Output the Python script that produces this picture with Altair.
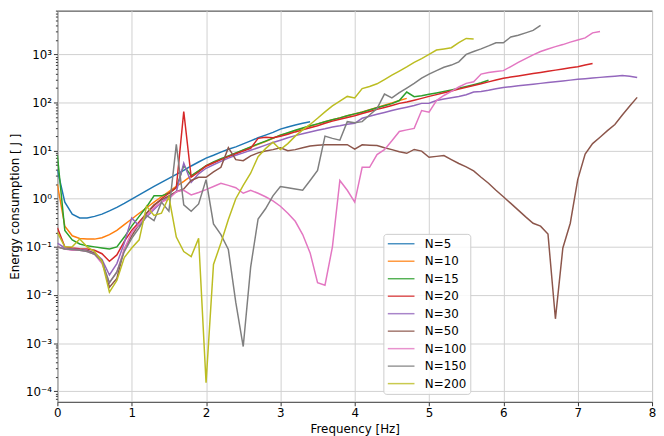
import altair as alt
import pandas as pd

FREQ = [0.0, 0.1, 0.2, 0.3, 0.4, 0.5, 0.6, 0.7, 0.8, 0.9,
        1.0, 1.1, 1.2, 1.3, 1.4, 1.5, 1.6, 1.7, 1.8, 1.9,
        2.0, 2.1, 2.2, 2.3, 2.4, 2.5, 2.6, 2.7, 2.8, 2.9,
        3.0, 3.1, 3.2, 3.3, 3.4, 3.5, 3.6, 3.7, 3.8, 3.9,
        4.0, 4.1, 4.2, 4.3, 4.4, 4.5, 4.6, 4.7, 4.8, 4.9,
        5.0, 5.1, 5.2, 5.3, 5.4, 5.5, 5.6, 5.7, 5.8, 5.9,
        6.0, 6.1, 6.2, 6.3, 6.4, 6.5, 6.6, 6.7, 6.8, 6.9,
        7.0, 7.1, 7.2, 7.3, 7.4, 7.5, 7.6, 7.7, 7.8]

SERIES = ["N=5", "N=10", "N=15", "N=20", "N=30", "N=50", "N=100", "N=150", "N=200"]
COLORS = ["#1f77b4", "#ff7f0e", "#2ca02c", "#d62728", "#9467bd",
          "#8c564b", "#e377c2", "#7f7f7f", "#bcbd22"]

N5 = [4.0, 0.85, 0.48, 0.40, 0.40, 0.43, 0.48, 0.56, 0.66, 0.80,
      0.98, 1.2, 1.48, 1.8, 2.2, 2.65, 3.2, 3.9, 4.8, 5.8,
      7.0, 8.0, 9.3, 10.7, 12, 13.8, 16, 18.5, 21, 24,
      28, 31, 34, 37, 40]

N10 = [2.0, 0.27, 0.17, 0.15, 0.145, 0.145, 0.155, 0.18, 0.22, 0.29,
       0.38, 0.5, 0.65, 0.85, 1.1, 1.4, 1.8, 2.3, 3.0, 3.8,
       4.7, 5.6, 6.6, 7.6, 8.8, 10.2, 11.8, 13.5, 15.5, 18,
       21, 23, 26, 29, 32, 36, 40, 44, 48, 53,
       58, 64, 71, 79, 88, 98, 110, 122]

N15 = [8.0, 0.22, 0.14, 0.115, 0.105, 0.1, 0.095, 0.09, 0.1, 0.16,
       0.27, 0.43, 0.68, 1.15, 1.15, 1.3, 1.7, 4.9, 3.0, 3.8,
       4.9, 5.8, 6.8, 7.8, 9.0, 10.4, 12, 13.8, 15.8, 18.2,
       21, 23.5, 26.5, 29.5, 33, 36, 40, 44, 48, 53,
       58, 63, 70, 78, 86, 95, 110, 165, 132, 138,
       148, 158, 170, 183, 198, 215, 235, 258, 290]

N20 = [0.25, 0.1, 0.095, 0.092, 0.09, 0.085, 0.072, 0.05, 0.068, 0.13,
       0.22, 0.33, 0.5, 0.72, 1.0, 1.3, 1.7, 65, 2.8, 3.6,
       4.8, 5.6, 6.5, 7.5, 8.6, 9.8, 11.2, 18, 19, 18.5,
       20, 22, 24.5, 27, 30, 33, 37, 41, 45, 49,
       53, 59, 65, 72, 79, 87, 96, 103, 112, 122,
       134, 146, 159, 174, 190, 207, 226, 246, 269, 293,
       320, 338, 357, 378, 399, 422, 446, 471, 498, 526,
       556, 600, 650]

N30 = [0.12, 0.095, 0.09, 0.088, 0.085, 0.075, 0.055, 0.026, 0.045, 0.12,
       0.4, 0.27, 0.42, 0.6, 0.85, 1.1, 1.4, 5.5, 2.2, 3.3,
       4.3, 5.1, 6.0, 7.0, 8.0, 9.0, 10.2, 11.5, 13, 14.8,
       16.5, 18.5, 20.5, 22.5, 24.5, 26.5, 28.5, 31, 33, 35.5,
       37, 47, 52, 57, 62, 68, 74, 80, 87, 96,
       97, 110, 118, 126, 134, 145, 165, 170, 180, 193,
       205, 213, 222, 231, 240, 250, 260, 270, 281, 292,
       303, 313, 323, 333, 343, 353, 365, 352, 330]

N50 = [0.1, 0.09, 0.088, 0.086, 0.083, 0.073, 0.052, 0.0145, 0.022, 0.09,
       0.17, 0.3, 0.5, 0.75, 0.95, 1.15, 1.4, 1.6, 2.4, 2.8,
       2.8, 3.6, 4.5, 11.5, 6.5, 6.2, 7.8, 9.0, 9.8, 10.5,
       11.5, 10.0, 10.5, 11.5, 12.5, 13.0, 13.2, 13.3, 13.3, 13.3,
       10.8, 13.2, 13.0, 12.8, 11.5, 10.5, 9.5, 8.8, 10.6, 9.8,
       7.3, 7.6, 7.9, 6.5, 5.4, 4.6, 3.8, 2.8, 2.1, 1.5,
       1.1, 0.8, 0.58, 0.42, 0.31, 0.27, 0.185, 0.0032, 0.095, 0.31,
       2.5, 8.5, 14, 19, 26, 35, 55, 85, 128]

N100 = [0.1, 0.09, 0.085, 0.085, 0.08, 0.07, 0.045, 0.018, 0.03, 0.09,
        0.2, 0.3, 0.45, 0.65, 0.85, 1.0, 1.4, 1.5, 1.2, 1.35,
        1.55, 1.8, 2.1, 1.9, 1.7, 1.3, 1.5, 1.3, 1.1, 0.9,
        0.7, 0.5, 0.34, 0.18, 0.075, 0.018, 0.016, 0.1, 2.4, 1.5,
        0.85, 4.5, 4.5, 8.3, 10.5, 16, 25, 27, 29, 68,
        63, 110, 140, 170, 210, 250, 270, 390, 420, 440,
        460, 560, 680, 820, 980, 1150, 1300, 1450, 1600, 1800,
        2000, 2200, 2800, 3000]

N150 = [0.1, 0.09, 0.088, 0.085, 0.08, 0.07, 0.05, 0.018, 0.03, 0.08,
        0.15, 0.25, 0.45, 0.35, 0.85, 0.55, 13.5, 0.75, 0.55, 0.78,
        2.5, 0.3, 0.18, 0.088, 0.007, 0.00085, 0.038, 0.38, 0.62, 1.15,
        1.8, 1.7, 1.6, 1.5, 2.4, 3.9, 20, 18, 16.5, 40,
        38, 40, 55, 75, 150, 125, 160, 200, 250, 320,
        390, 460, 540, 600, 700, 1000, 1150, 1300, 1500, 1750,
        1750, 2300, 2500, 2800, 3150, 4000]

N200 = [0.2, 0.1, 0.1, 0.145, 0.1, 0.08, 0.05, 0.0115, 0.02, 0.06,
        0.095, 0.14, 0.7, 0.45, 0.5, 1.1, 0.16, 0.08, 0.063, 0.15,
        0.00015, 0.043, 0.12, 0.37, 1.0, 1.9, 3.4, 7.5, 11, 15,
        10.5, 14, 20, 27, 35, 47, 64, 85, 107, 134,
        124, 195, 215, 245, 300, 370, 450, 550, 680, 820,
        1000, 1230, 1300, 1380, 1750, 2150, 2100]

VALUES = [N5, N10, N15, N20, N30, N50, N100, N150, N200]

Y_MAJOR = [0.0001, 0.001, 0.01, 0.1, 1, 10, 100, 1000]
Y_MINOR = [m * 10.0 ** e for e in range(-5, 4) for m in range(2, 10)
           if 6.1e-5 < m * 10.0 ** e < 8100]
X_TICKS = [0, 1, 2, 3, 4, 5, 6, 7, 8]

rows = []
for name, vals in zip(SERIES, VALUES):
    for f, v in zip(FREQ, vals):
        rows.append({"series": name, "freq": f, "energy": v})
df = pd.DataFrame(rows)

major_test = "indexof([0.0001, 0.001, 0.01, 0.1, 1, 10, 100, 1000], datum.value) >= 0"
label_expr = ("datum.value == 0.0001 ? '10⁻⁴' : datum.value == 0.001 ? '10⁻³' : "
              "datum.value == 0.01 ? '10⁻²' : datum.value == 0.1 ? '10⁻¹' : "
              "datum.value == 1 ? '10⁰' : datum.value == 10 ? '10¹' : "
              "datum.value == 100 ? '10²' : datum.value == 1000 ? '10³' : ''")

FONT = "DejaVu Sans"

chart = alt.Chart(df).mark_line(strokeWidth=1.5, clip=True).encode(
    x=alt.X("freq:Q",
            scale=alt.Scale(domain=[0, 8], nice=False, zero=False),
            axis=alt.Axis(values=X_TICKS, format="d", title="Frequency [Hz]",
                          tickSize=4, labelPadding=2, titlePadding=5,
                          labelFlush=False)),
    y=alt.Y("energy:Q",
            scale=alt.Scale(type="log", domain=[6.03e-5, 8128], nice=False),
            axis=alt.Axis(values=Y_MAJOR + Y_MINOR, labelExpr=label_expr,
                          title="Energy consumption [ J ]",
                          tickSize={"condition": {"test": major_test, "value": 4}, "value": 2},
                          gridOpacity={"condition": {"test": major_test, "value": 1}, "value": 0},
                          labelPadding=2, titlePadding=4, labelFlush=False)),
    color=alt.Color("series:N",
                    scale=alt.Scale(domain=SERIES, range=COLORS),
                    sort=SERIES,
                    legend=alt.Legend(title=None, orient="none", legendX=330, legendY=226,
                                      symbolType="M-2.7,0H2.7", symbolSize=100,
                                      symbolStrokeWidth=1.5, symbolOpacity=0.8,
                                      symbolOffset=8,
                                      labelFontSize=12, labelFont=FONT, labelColor="black",
                                      rowPadding=5.7, padding=4,
                                      fillColor="rgba(255,255,255,0.85)",
                                      strokeColor="#cccccc", cornerRadius=3,
                                      labelOffset=18)),
    order=alt.Order("freq:Q"),
).properties(
    width=602, height=396,
    padding={"left": 50, "top": 0, "right": 4, "bottom": 34},
    autosize=alt.AutoSizeParams(type="none"),
).configure_view(
    stroke="#333333", strokeWidth=1
).configure_axis(
    domain=False, gridColor="#d0d0d0", gridWidth=1,
    labelFont=FONT, labelFontSize=12, labelColor="black",
    titleFont=FONT, titleFontSize=12, titleFontWeight="normal", titleColor="black",
    tickColor="#333333"
)

chart.save("out.html", embed_options={"renderer": "svg", "actions": False})
